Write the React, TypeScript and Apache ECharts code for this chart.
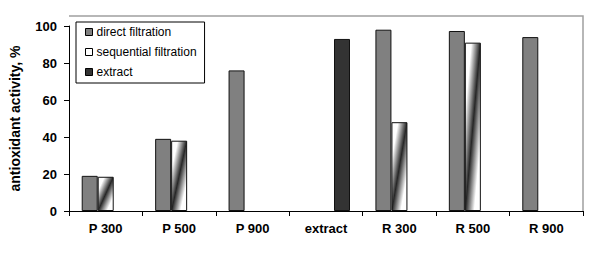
import React, { useEffect, useRef } from "react";
import * as echarts from "echarts";

const categories = ["P 300", "P 500", "P 900", "extract", "R 300", "R 500", "R 900"];
const directFiltration: (number | string)[] = [19, 39, 76, "-", 98, 97.3, 94];
const sequentialFiltration: (number | string)[] = [18.5, 38, "-", "-", 48, 91, "-"];
const extractValues: (number | string)[] = ["-", "-", "-", 93, "-", "-", "-"];
const yTicks = [0, 20, 40, 60, 80, 100];

const FONT = "'Liberation Sans', Arial, sans-serif";

export default function App() {
  const ref = useRef<HTMLDivElement>(null);
  useEffect(() => {
    if (!ref.current) return;
    const chart = echarts.init(ref.current, undefined, { renderer: "svg" });
    const seqGradient = new echarts.graphic.LinearGradient(0, 0, 1, 1, [
      { offset: 0, color: "#ffffff" },
      { offset: 0.2, color: "#ffffff" },
      { offset: 0.5, color: "#262626" },
      { offset: 0.8, color: "#ffffff" },
      { offset: 1, color: "#ffffff" },
    ]);
    const barBorder = { borderColor: "#111", borderWidth: 1 };
    chart.setOption({
      animation: false,
      backgroundColor: "#ffffff",
      textStyle: { fontFamily: FONT },
      grid: { left: 69, right: 17, top: 26, bottom: 42 },
      graphic: [
        {
          type: "polyline",
          shape: { points: [[69, 16], [583, 16], [583, 211]] },
          style: { stroke: "#a0a0a0", lineWidth: 1.5, fill: null },
          z: 0,
        },
      ],
      legend: {
        orient: "vertical",
        left: 76,
        top: 22,
        width: 128,
        padding: [4, 8, 5, 9],
        itemGap: 8,
        itemWidth: 7,
        itemHeight: 7,
        borderColor: "#000",
        borderWidth: 1,
        backgroundColor: "#fff",
        icon: "rect",
        textStyle: { fontSize: 12, fontFamily: FONT, color: "#000", padding: [0, 0, 0, -1] },
        data: [
          { name: "direct filtration", itemStyle: { color: "#808080", borderColor: "#000", borderWidth: 1 } },
          { name: "sequential filtration", itemStyle: { color: "#ffffff", borderColor: "#000", borderWidth: 1 } },
          { name: "extract", itemStyle: { color: "#333333", borderColor: "#000", borderWidth: 1 } },
        ],
      },
      xAxis: {
        type: "category",
        data: categories,
        axisLine: { lineStyle: { color: "#000", width: 1 } },
        axisTick: { show: true, length: 5, lineStyle: { color: "#000" } },
        axisLabel: { fontSize: 13, fontWeight: "bold", color: "#000", margin: 11, fontFamily: FONT },
      },
      yAxis: {
        type: "value",
        min: 0,
        max: 100,
        interval: 20,
        name: "antioxidant activity, %",
        nameLocation: "middle",
        nameGap: 47,
        nameTextStyle: { fontSize: 14, fontWeight: "bold", color: "#000", fontFamily: FONT },
        axisLine: { show: true, lineStyle: { color: "#000", width: 1 } },
        axisTick: { show: true, length: 5, lineStyle: { color: "#000" } },
        splitLine: { show: false },
        axisLabel: {
          fontSize: 13,
          fontWeight: "bold",
          color: "#000",
          margin: 12,
          fontFamily: FONT,
          formatter: (v: number) => (yTicks.includes(v) ? String(v) : ""),
        },
      },
      series: [
        {
          name: "direct filtration",
          type: "bar",
          data: directFiltration,
          barWidth: 16,
          barGap: "0%",
          itemStyle: { color: "#808080", ...barBorder },
        },
        {
          name: "sequential filtration",
          type: "bar",
          data: sequentialFiltration,
          barWidth: 16,
          barGap: "0%",
          itemStyle: { color: seqGradient, ...barBorder },
        },
        {
          name: "extract",
          type: "bar",
          data: extractValues,
          barWidth: 16,
          barGap: "0%",
          itemStyle: { color: "#333333", ...barBorder },
        },
      ],
    });
    return () => chart.dispose();
  }, []);
  return <div ref={ref} style={{ width: 600, height: 253, margin: -8 }} />;
}
